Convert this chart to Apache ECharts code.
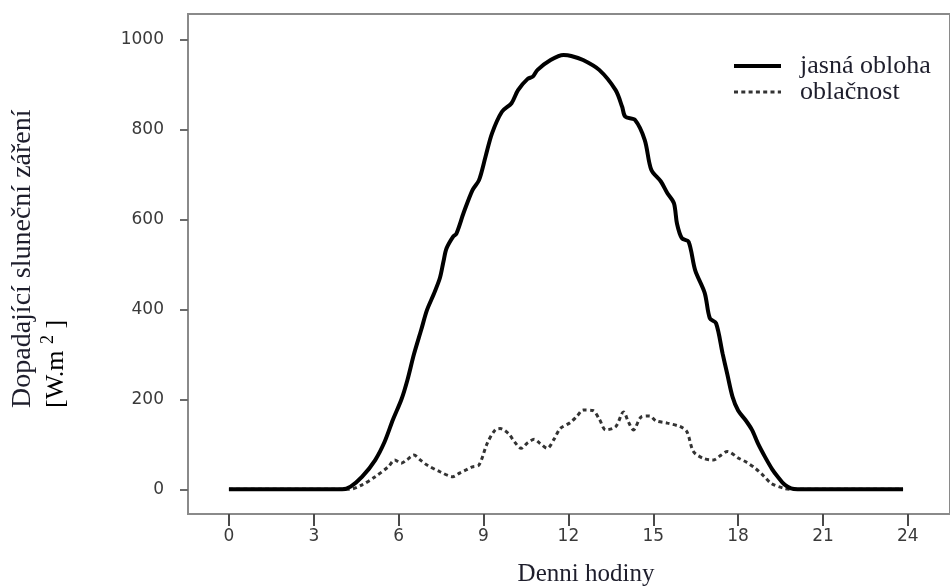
<!DOCTYPE html>
<html>
<head>
<meta charset="utf-8">
<script src="https://cdn.jsdelivr.net/npm/echarts@6/dist/echarts.min.js"></script>
<style>
html,body{margin:0;padding:0;background:#fff;}
#chart{width:950px;height:588px;}
</style>
</head>
<body>
<div id="chart"></div>
<script>
// ---- data ----
const xTicks = [0, 3, 6, 9, 12, 15, 18, 21, 24];
const yTicks = [0, 200, 400, 600, 800, 1000];

const clearName = 'jasná obloha';
const clearHours = [0, 4.0, 4.3, 4.71, 5.17, 5.5, 5.8, 6.1, 6.31, 6.54, 6.8, 7.0, 7.25, 7.46, 7.58, 7.69, 7.92, 8.04, 8.3, 8.61, 8.84, 9.07, 9.3, 9.65, 9.99, 10.22, 10.56, 10.74, 10.91, 11.37, 11.83, 12.1, 12.52, 13.09, 13.67, 13.9, 14.01, 14.35, 14.7, 14.93, 15.27, 15.5, 15.73, 15.84, 16.01, 16.25, 16.48, 16.82, 17.0, 17.22, 17.45, 17.62, 17.8, 18.0, 18.26, 18.49, 18.7, 18.95, 19.2, 19.4, 19.65, 19.87, 20.1, 23.83];
const clearValues = [0, 0, 6, 28, 65, 105, 155, 200, 243, 300, 355, 398, 435, 470, 505, 535, 561, 568, 615, 665, 687, 739, 791, 839, 858, 887, 912, 917, 932, 954, 965, 963, 954, 932, 887, 850, 828, 821, 776, 710, 684, 658, 636, 590, 558, 550, 487, 436, 380, 369, 302, 255, 206, 175, 154, 132, 102, 72, 45, 28, 10, 2, 0, 0];

const cloudName = 'oblačnost';
const cloudHours = [0, 4.25, 4.71, 5.17, 5.63, 5.86, 6.09, 6.3, 6.54, 6.75, 7.0, 7.46, 7.92, 8.15, 8.38, 8.61, 8.84, 9.13, 9.41, 9.59, 9.88, 10.1, 10.33, 10.55, 10.79, 11.0, 11.25, 11.5, 11.71, 12.06, 12.3, 12.52, 12.86, 13.1, 13.32, 13.67, 13.95, 14.12, 14.3, 14.58, 14.87, 15.1, 15.5, 15.96, 16.19, 16.42, 16.76, 17.11, 17.4, 17.62, 18.02, 18.3, 18.6, 18.9, 19.17, 19.63, 19.9, 23.83];
const cloudValues = [0, 0, 10, 28, 50, 65, 58, 66, 76, 66, 54, 39, 28, 36, 43, 50, 54, 102, 132, 135, 124, 105, 91, 103, 111, 102, 91, 112, 135, 148, 162, 176, 175, 155, 132, 139, 172, 150, 132, 161, 163, 152, 147, 139, 128, 84, 69, 65, 76, 84, 69, 60, 47, 30, 13, 2, 0, 0];

const xTitle = 'Denni hodiny';
const yTitleLine1 = 'Dopadající sluneční záření';
const yTitleLine2a = '[W.m ';
const yTitleSup = '2';
const yTitleLine2b = ' ]';

// ---- chart ----
const pair = (xs, ys) => xs.map((x, i) => [x, ys[i]]);
const chart = echarts.init(document.getElementById('chart'), null, {renderer: 'canvas'});
const serif = '"Liberation Serif", "Times New Roman", serif';
const sans = '"DejaVu Sans", sans-serif';
const textCol = '#1e1e2c';

chart.setOption({
  animation: false,
  backgroundColor: '#ffffff',
  grid: {
    left: 188, top: 14, right: -20, bottom: 74,
    show: true, borderColor: '#8a8a8a', borderWidth: 2, backgroundColor: 'transparent'
  },
  xAxis: {
    type: 'value', min: -1.447, max: 25.49,
    splitLine: {show: false},
    axisLine: {show: true, onZero: false, lineStyle: {color: '#8a8a8a', width: 2}},
    axisTick: {show: true, inside: false, length: 12, customValues: xTicks, lineStyle: {color: '#4a4a4a', width: 2}},
    axisLabel: {customValues: xTicks, margin: 14, fontFamily: sans, fontSize: 17, color: '#3a3a3a'}
  },
  yAxis: {
    type: 'value', min: -54.9, max: 1056.2,
    splitLine: {show: false},
    axisLine: {show: true, onZero: false, lineStyle: {color: '#8a8a8a', width: 2}},
    axisTick: {show: true, inside: false, length: 8, customValues: yTicks, lineStyle: {color: '#6a6a6a', width: 2}},
    axisLabel: {customValues: yTicks, margin: 24, fontFamily: sans, fontSize: 17, color: '#3a3a3a',
      formatter: v => String(v)}
  },
  legend: {
    orient: 'vertical', left: 727, top: 48, itemGap: 0,
    itemWidth: 47, itemHeight: 14,
    itemStyle: {opacity: 0},
    textStyle: {fontFamily: serif, fontSize: 26, color: textCol, padding: [0, 0, 0, 14]},
    data: [
      {name: clearName, lineStyle: {color: '#000000', width: 4, type: 'solid'}},
      {name: cloudName, lineStyle: {color: '#333333', width: 3, type: [4, 3.3]}}
    ]
  },
  series: [
    {
      name: clearName, type: 'line', symbol: 'none', smooth: 0.3,
      data: pair(clearHours, clearValues),
      lineStyle: {color: '#000000', width: 4},
      itemStyle: {color: '#000000'},
      z: 3
    },
    {
      name: cloudName, type: 'line', symbol: 'none', smooth: 0.3,
      data: pair(cloudHours, cloudValues),
      lineStyle: {color: '#333333', width: 3, type: [4, 3.3]},
      itemStyle: {color: '#333333'},
      z: 2
    }
  ],
  graphic: [
    {
      type: 'text', x: 586, y: 574,
      style: {text: xTitle, font: '25px ' + serif, fill: textCol, textAlign: 'center', textVerticalAlign: 'middle'}
    },
    {
      type: 'text', x: 23, y: 408, rotation: Math.PI / 2,
      style: {text: yTitleLine1, font: '28px ' + serif, fill: textCol, textAlign: 'left', textVerticalAlign: 'middle'}
    },
    {
      type: 'text', x: 56, y: 408, rotation: Math.PI / 2,
      style: {
        text: '{a|' + yTitleLine2a + '}{s|' + yTitleSup + '}{a|' + yTitleLine2b + '}',
        textAlign: 'left', textVerticalAlign: 'middle',
        rich: {
          a: {fontFamily: serif, fontSize: 26, color: textCol},
          s: {fontFamily: serif, fontSize: 18, color: textCol, padding: [0, 0, 16, 0]}
        }
      }
    }
  ]
});
</script>
</body>
</html>
